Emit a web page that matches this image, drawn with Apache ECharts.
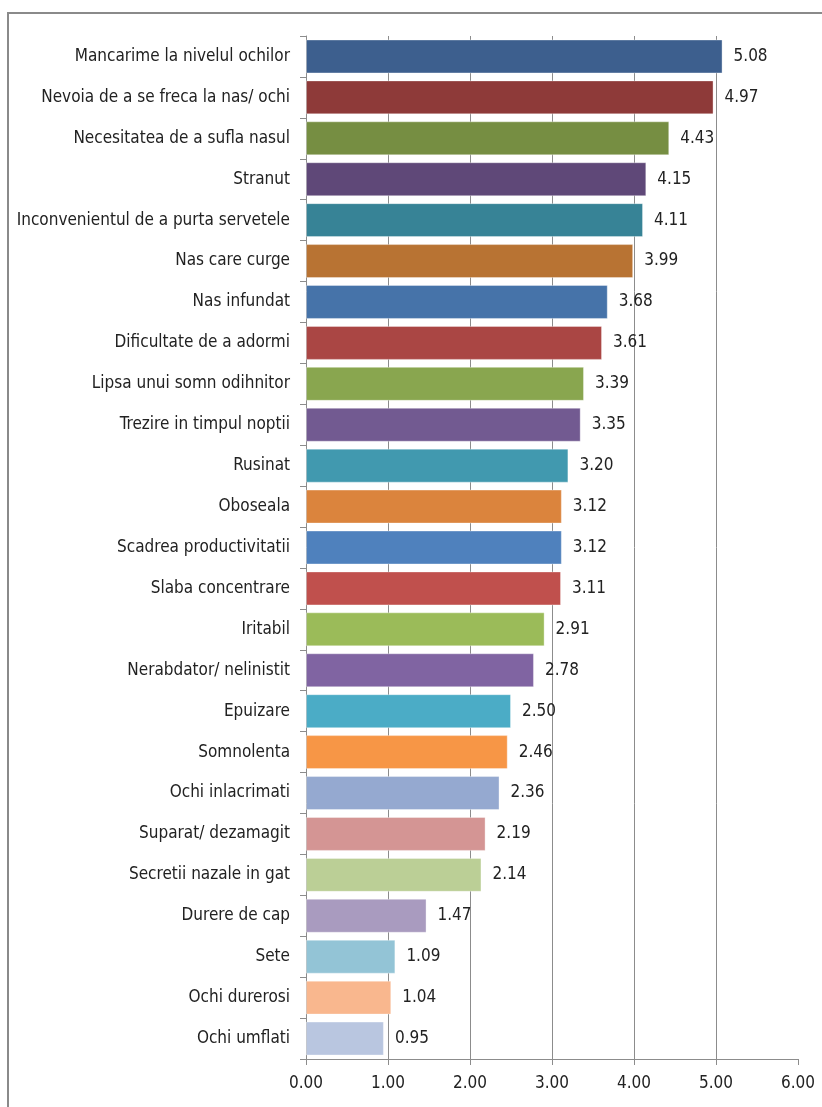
<!DOCTYPE html>
<html>
<head>
<meta charset="utf-8">
<script src="https://cdn.jsdelivr.net/npm/echarts@6/dist/echarts.min.js"></script>
<style>
  html, body { margin: 0; padding: 0; background: #fff; }
  #frame { position: absolute; left: 7px; top: 12px; width: 822px; height: 1107px;
           border-left: 2px solid #8a8a8a; border-top: 2px solid #8a8a8a; box-sizing: border-box; }
  #chart { position: absolute; left: 0; top: 0; width: 822px; height: 1107px; }
</style>
</head>
<body>
<div id="frame"></div>
<div id="chart"></div>
<script>
// Symptoms, listed top to bottom
const categories = [
  'Mancarime la nivelul ochilor',
  'Nevoia de a se freca la nas/ ochi',
  'Necesitatea de a sufla nasul',
  'Stranut',
  'Inconvenientul de a purta servetele',
  'Nas care curge',
  'Nas infundat',
  'Dificultate de a adormi',
  'Lipsa unui somn odihnitor',
  'Trezire in timpul noptii',
  'Rusinat',
  'Oboseala',
  'Scadrea productivitatii',
  'Slaba concentrare',
  'Iritabil',
  'Nerabdator/ nelinistit',
  'Epuizare',
  'Somnolenta',
  'Ochi inlacrimati',
  'Suparat/ dezamagit',
  'Secretii nazale in gat',
  'Durere de cap',
  'Sete',
  'Ochi durerosi',
  'Ochi umflati'
];

// Mean scores, same order as the categories
const scores = [5.08, 4.97, 4.43, 4.15, 4.11, 3.99, 3.68, 3.61, 3.39, 3.35, 3.20, 3.12, 3.12, 3.11, 2.91, 2.78, 2.50, 2.46, 2.36, 2.19, 2.14, 1.47, 1.09, 1.04, 0.95];

// One fill per bar
const barColors = [
  '#3D5F8E', '#8E3A39', '#768E42', '#5F4878', '#378396', '#B87333',
  '#4673A9', '#AA4644', '#89A64F', '#725A91', '#4199AF', '#DB843D',
  '#4F81BD', '#C0504D', '#9BBB59', '#8064A2', '#4BACC6', '#F79646',
  '#95A9D0', '#D49594', '#BBCF96', '#A99BBF', '#93C4D6', '#F9B78E', '#B9C6E0'
];

const xTicks = { min: 0, max: 6, interval: 1 };

const textFont = "'Liberation Sans Narrow', 'DejaVu Sans Condensed', 'Liberation Sans', sans-serif";

const chart = echarts.init(document.getElementById('chart'), null, { renderer: 'canvas' });

chart.setOption({
  animation: false,
  backgroundColor: 'transparent',
  grid: { left: 306, right: 24, top: 36, bottom: 48, containLabel: false },
  xAxis: {
    type: 'value',
    min: xTicks.min, max: xTicks.max, interval: xTicks.interval,
    axisLine: { show: true, lineStyle: { color: '#8c8c8c', width: 1 } },
    axisTick: { show: true, length: 6, lineStyle: { color: '#8c8c8c' } },
    axisLabel: {
      formatter: v => v.toFixed(2),
      color: '#222', fontSize: 17, fontFamily: textFont, margin: 16
    },
    splitLine: { show: true, showMinLine: false, showMaxLine: false, lineStyle: { color: '#8c8c8c', width: 1 } }
  },
  yAxis: {
    type: 'category',
    inverse: true,
    data: categories,
    axisLine: { show: true, lineStyle: { color: '#8c8c8c', width: 1 } },
    axisTick: { show: true, length: 6, lineStyle: { color: '#8c8c8c' } },
    axisLabel: { color: '#222', fontSize: 17, fontFamily: textFont, margin: 16 },
    splitLine: { show: false }
  },
  series: [{
    type: 'bar',
    data: scores.map((v, i) => ({ value: v, itemStyle: { color: barColors[i] } })),
    barCategoryGap: '17%',
    itemStyle: { borderColor: 'rgba(255,255,255,0.35)', borderWidth: 1 },
    label: {
      show: true, position: 'right', distance: 11,
      formatter: p => p.value.toFixed(2),
      color: '#222', fontSize: 17, fontFamily: textFont
    }
  }]
});
</script>
</body>
</html>
